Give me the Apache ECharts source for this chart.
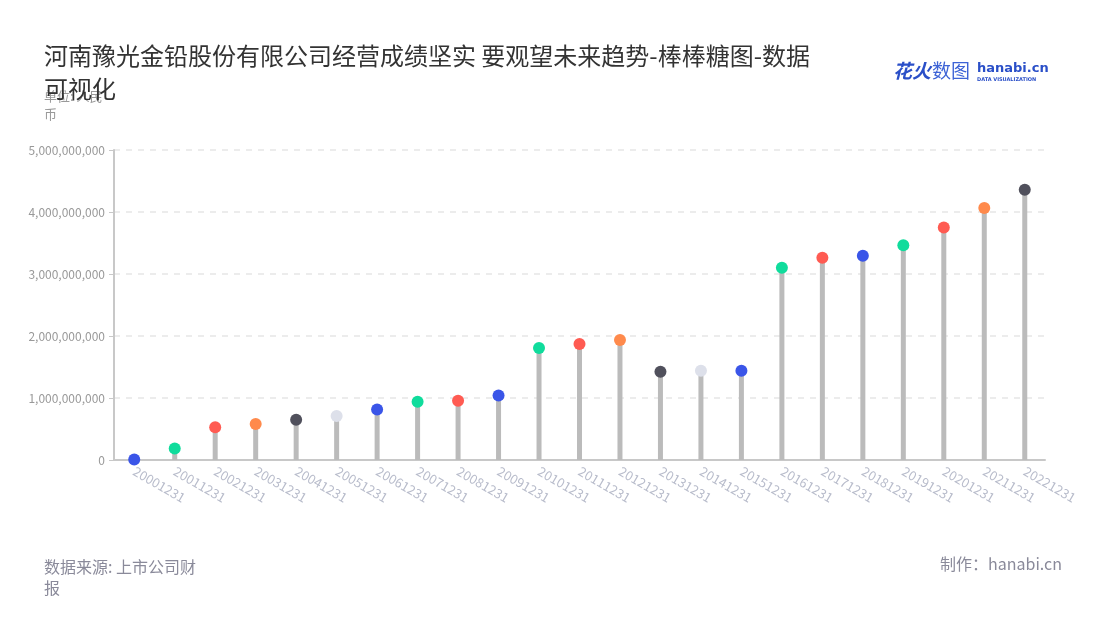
<!DOCTYPE html>
<html><head><meta charset="utf-8">
<script src="https://cdn.jsdelivr.net/npm/echarts@6/dist/echarts.min.js"></script>
<style>html,body{margin:0;padding:0;background:#fff}#c{width:1100px;height:620px}</style>
</head><body><div id="c"></div>
<script>
const categories = ['20001231','20011231','20021231','20031231','20041231','20051231','20061231','20071231','20081231','20091231','20101231','20111231','20121231','20131231','20141231','20151231','20161231','20171231','20181231','20191231','20201231','20211231','20221231'];
const values = [8000000,185000000,530000000,580000000,648000000,710000000,815000000,940000000,955000000,1042000000,1808000000,1870000000,1935000000,1425000000,1438000000,1438000000,3100000000,3262000000,3295000000,3462000000,3750000000,4063000000,4358000000];
const dotColors = ['#3a55e8','#10dc9c','#ff5b52','#ff8a4c','#50505c','#dde0ea','#3a55e8','#10dc9c','#ff5b52','#3a55e8','#10dc9c','#ff5b52','#ff8a4c','#50505c','#dde0ea','#3a55e8','#10dc9c','#ff5b52','#3a55e8','#10dc9c','#ff5b52','#ff8a4c','#50505c'];
const yTicks = [0,1000000000,2000000000,3000000000,4000000000,5000000000];

const chart = echarts.init(document.getElementById('c'));
const font = '"Noto Sans CJK SC","Noto Sans",sans-serif';
chart.setOption({
  backgroundColor:'#fff',
  textStyle:{fontFamily:font},
  title:{
    text:'河南豫光金铅股份有限公司经营成绩坚实 要观望未来趋势-棒棒糖图-数据可视化',
    left:39, top:34, width:780,
    textStyle:{fontSize:24,fontWeight:'normal',color:'#333',lineHeight:33,width:780,overflow:'break'}
  },
  grid:{left:114,right:55,top:150,bottom:160},
  xAxis:{
    type:'category', data:categories,
    axisLine:{lineStyle:{color:'#c8c8c8',width:2}},
    axisTick:{alignWithLabel:true,lineStyle:{color:'#c8c8c8'}},
    axisLabel:{rotate:-30,color:'#b8bccb',fontSize:13,margin:10,interval:0}
  },
  yAxis:{
    type:'value', min:yTicks[0], max:yTicks[yTicks.length-1], interval:1000000000,
    axisLine:{show:true,lineStyle:{color:'#c8c8c8',width:2}},
    axisTick:{show:true,length:5,lineStyle:{color:'#c8c8c8'}},
    splitLine:{lineStyle:{type:[6,6],color:'#e6e6e6',width:1.5}},
    axisLabel:{color:'#999',fontSize:12,margin:9,formatter:v=>v.toLocaleString('en-US')}
  },
  series:[
    {type:'bar',data:values,barWidth:5,itemStyle:{color:'#bbbbbb'},silent:true},
    {type:'scatter',data:values.map((v,i)=>({value:v,itemStyle:{color:dotColors[i],opacity:1}})),symbolSize:12,z:5}
  ],
  graphic:[
    {type:'text',left:44,top:87,style:{text:'单位: 人民\n币',fill:'#999',font:'13px '+font,lineHeight:18}},
    {type:'text',left:44,top:556,style:{text:'数据来源: 上市公司财\n报',fill:'#8a8a9a',font:'16px '+font,lineHeight:21}},
    {type:'text',right:38,top:556,style:{text:'制作：hanabi.cn',fill:'#8a8a9a',font:'16px '+font}},
    {type:'text',left:893,top:61,style:{text:'花火',fill:'#2a4fc8',font:'italic bold 19px '+font}},
    {type:'text',left:932,top:61,style:{text:'数图',fill:'#3d63d6',font:'19px '+font}},
    {type:'text',left:977,top:62,style:{text:'hanabi.cn',fill:'#2a4fc8',font:'bold 13px "DejaVu Sans",sans-serif'}},
    {type:'text',left:977,top:77,style:{text:'DATA VISUALIZATION',fill:'#2a4fc8',font:'bold 5px "DejaVu Sans",sans-serif'}}
  ]
});
</script></body></html>
